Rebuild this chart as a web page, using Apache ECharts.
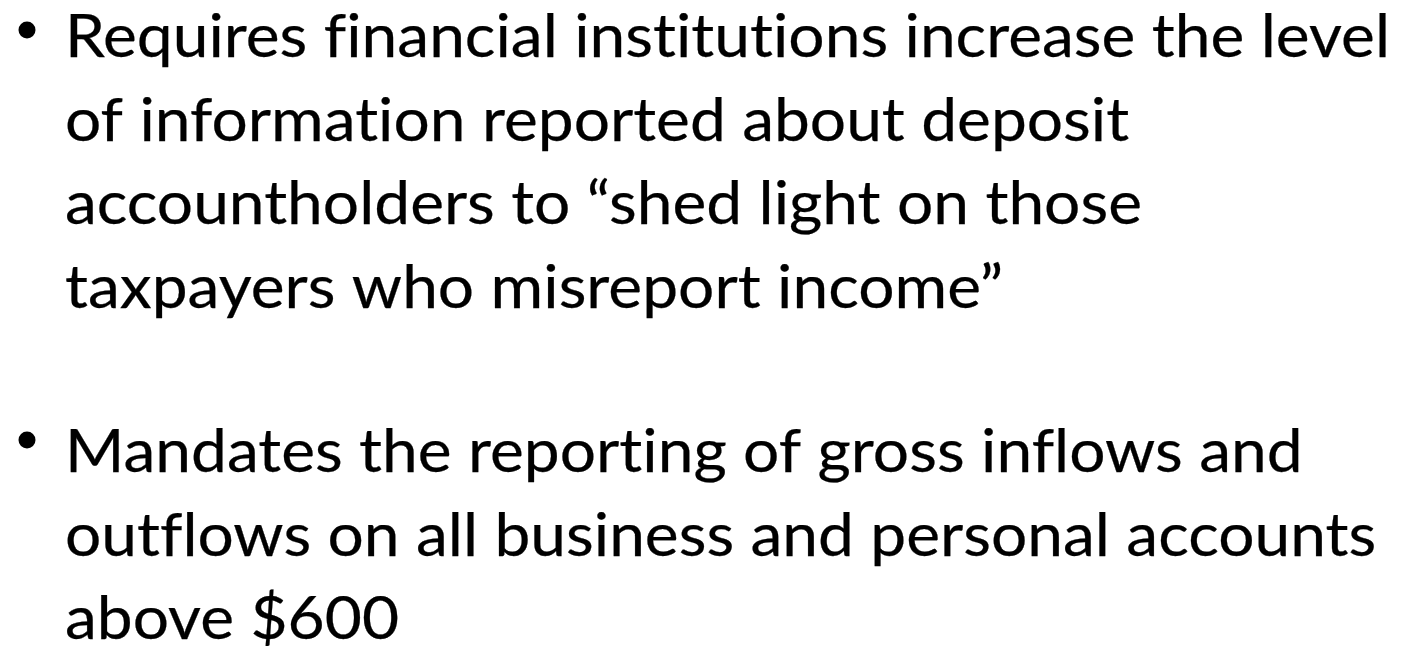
<!DOCTYPE html>
<html>
<head>
<meta charset="utf-8">
<script src="https://cdn.jsdelivr.net/npm/echarts@6/dist/echarts.min.js"></script>
<style>
html, body { margin: 0; padding: 0; background: #fff; }
#slide { width: 1427px; height: 646px; }
</style>
</head>
<body>
<div id="slide"></div>
<script>
// slide text, one entry per line
const bullet1Lines = [
  "Requires financial institutions increase the level",
  "of information reported about deposit",
  "accountholders to \u201cshed light on those",
  "taxpayers who misreport income\u201d"
];
const bullet2Lines = [
  "Mandates the reporting of gross inflows and",
  "outflows on all business and personal accounts",
  "above $600"
];

const fontFamily = "Lato";
const fontSize = 60;
const textLeft = 65;
const lineGap = 83.5;
const firstLineWidth = 1325; // width of line 1 in the reference

// Lato joins fi / ti / ft, the original font does not -> break them with a ZWNJ
const noLig = s => s.replace(/([ft])(?=[a-z])/g, "$1\u200C");

// squeeze the font horizontally so it takes the width of the original (Calibri)
const cv = document.createElement("canvas").getContext("2d");
cv.font = fontSize + "px " + fontFamily;
const sx = firstLineWidth / cv.measureText(noLig(bullet1Lines[0])).width;

const myChart = echarts.init(document.getElementById("slide"));

function block(lines, baseline0, bulletY) {
  const els = [{
    type: "circle",
    shape: { cx: 27, cy: bulletY, r: 8.5 },
    style: { fill: "#000" }
  }];
  lines.forEach((t, i) => {
    els.push({
      type: "text",
      x: textLeft,
      y: baseline0 + i * lineGap,
      scaleX: sx,
      style: {
        text: noLig(t),
        fill: "#000",
        stroke: "#000",
        lineWidth: 0.25,
        font: fontSize + "px " + fontFamily,
        textAlign: "left",
        textVerticalAlign: "bottom"
      }
    });
  });
  return els;
}

const option = {
  backgroundColor: "#ffffff",
  graphic: [
    ...block(bullet1Lines, 55 + 13, 30),
    ...block(bullet2Lines, 470 + 13, 440)
  ]
};
myChart.setOption(option);
</script>
</body>
</html>
